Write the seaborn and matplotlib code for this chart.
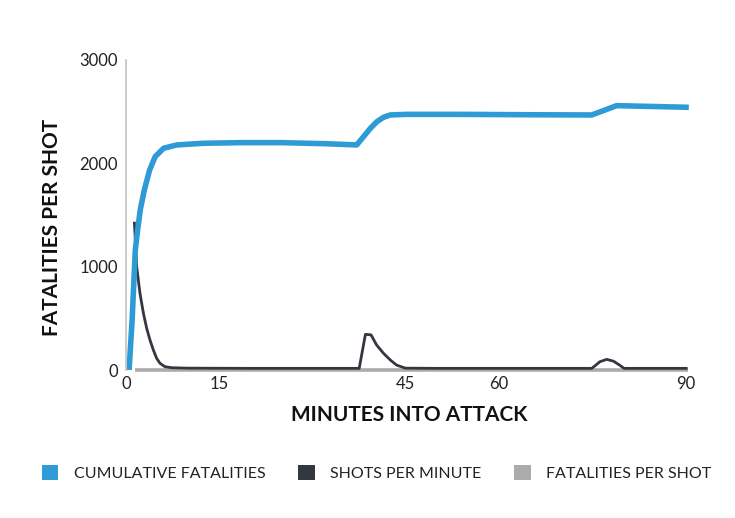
import numpy as np
import pandas as pd
import matplotlib.pyplot as plt
import seaborn as sns
from matplotlib.patches import Patch

# --- data ---
cum_minutes = [0.5, 1.0, 1.5, 1.87, 2.3, 2.94, 3.8, 4.7, 6.05, 8.2, 12.4, 18.4, 25, 32, 37.1,
               38.2, 39.3, 40.35, 41.4, 42.5, 45.2, 53.7, 65, 74.9, 78.9, 90.5]
cum_fatalities = [0, 500, 1160, 1355, 1550, 1740, 1935, 2065, 2146, 2178, 2194, 2200, 2200, 2190, 2178,
                  2258, 2339, 2403, 2445, 2468, 2474, 2474, 2470, 2468, 2558, 2542]

shot_minutes = [1.35, 1.72, 2.25, 2.8, 3.33, 3.86, 4.4, 4.93, 5.47, 6.27, 7.35, 10, 20, 30, 37.5,
                38.5, 39.4, 40.3, 41.4, 42.5, 43.5, 44.9, 50, 60, 70, 74.9,
                75.5, 76.2, 77.3, 78.4, 79.3, 80.1, 85, 90.3]
shots_per_minute = [1435, 1000, 742, 550, 403, 290, 194, 113, 65, 32, 22, 18, 16, 16, 16,
                    345, 340, 242, 162, 97, 48, 18, 16, 16, 16, 16,
                    45, 80, 103, 85, 50, 16, 16, 16]

fps_minutes = [1.5, 10, 30, 45, 60, 75, 90.3]
fatalities_per_shot = [0, 0, 0, 0, 0, 0, 0]

series_names = ['CUMULATIVE FATALITIES', 'SHOTS PER MINUTE', 'FATALITIES PER SHOT']
series_colors = ['#2e9bd6', '#33373f', '#ababab']

x_ticks = [0, 15, 45, 60, 90]
y_ticks = [0, 1000, 2000, 3000]

cum_df = pd.DataFrame({'minute': cum_minutes, 'value': cum_fatalities})
shots_df = pd.DataFrame({'minute': shot_minutes, 'value': shots_per_minute})
fps_df = pd.DataFrame({'minute': fps_minutes, 'value': fatalities_per_shot})

# --- plotting ---
sns.set_style('white')
plt.rcParams['font.family'] = ['Lato', 'DejaVu Sans']

fig = plt.figure(figsize=(7.35, 5.18), dpi=100)
ax = fig.add_axes([0.1714, 0.2857, 0.770, 0.5985])

line_kw = dict(solid_joinstyle='round', solid_capstyle='butt')
sns.lineplot(data=fps_df, x='minute', y='value', ax=ax, color=series_colors[2], linewidth=2.6,
             clip_on=False, **line_kw)
sns.lineplot(data=shots_df, x='minute', y='value', ax=ax, color=series_colors[1], linewidth=2.0, **line_kw)
sns.lineplot(data=cum_df, x='minute', y='value', ax=ax, color=series_colors[0], linewidth=4.0, **line_kw)

ax.set_xlim(0, 91)
ax.set_ylim(0, 3000)
ax.set_xticks(x_ticks)
ax.set_yticks(y_ticks)
ax.set_xticklabels([str(t) for t in x_ticks], fontsize=12, color='#222222')
ax.set_yticklabels([str(t) for t in y_ticks], fontsize=12, color='#222222')

for side in ['top', 'right', 'bottom']:
    ax.spines[side].set_visible(False)
ax.spines['left'].set_color('#c8c8c8')
ax.spines['left'].set_linewidth(1.3)
ax.tick_params(axis='y', direction='in', length=6, width=1, color='#c8c8c8', pad=6)
ax.tick_params(axis='x', length=0, pad=4)

ax.set_xlabel('MINUTES INTO ATTACK', fontsize=15, fontweight='bold', color='#111111', labelpad=10)
ax.set_ylabel('FATALITIES PER SHOT', fontsize=15, fontweight='bold', color='#111111')
ax.yaxis.set_label_coords(-0.113, 0.461)

handles = [Patch(facecolor=c, edgecolor='none') for c in series_colors]
fig.legend(handles, series_names, loc='center', bbox_to_anchor=(0.512, 0.087), ncol=3,
           frameon=False, fontsize=11.5, handlelength=1.05, handleheight=1.05,
           handletextpad=0.95, columnspacing=2.05, labelcolor='#222222')

plt.savefig('out.png', dpi=100)
